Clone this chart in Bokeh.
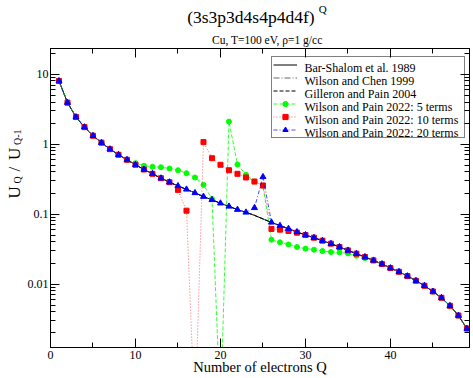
from math import pi
from bokeh.plotting import figure
from bokeh.layouts import column, row
from bokeh.models import (Range1d, FixedTicker, LogAxis, Label, Legend, LegendItem,
                          CustomJSTickFormatter, LinearAxis)
from bokeh.embed import file_html
from bokeh.resources import INLINE

# ---------------- data ----------------
Q = [1, 2, 3, 4, 5, 6, 7, 8, 9, 10, 11, 12, 13, 14, 15, 16, 17, 18, 19, 20,
     21, 22, 23, 24, 25, 26, 27, 28, 29, 30, 31, 32, 33, 34, 35, 36, 37, 38, 39, 40,
     41, 42, 43, 44, 45, 46, 47, 48, 49]

bar_shalom = [8.0, 3.92, 2.44, 1.75, 1.32, 1.05, 0.848, 0.705, 0.598, 0.507,
              0.434, 0.377, 0.326, 0.286, 0.253, 0.226, 0.201, 0.178, 0.160, 0.143,
              0.129, 0.116, 0.106, 0.0961, 0.0853, 0.0763, 0.0684, 0.0619, 0.0556, 0.0503,
              0.0460, 0.0417, 0.0378, 0.0339, 0.0303, 0.0272, 0.0244, 0.0218, 0.01935, 0.01694,
              0.0150, 0.0130, 0.01115, 0.00946, 0.00783, 0.00637, 0.00489, 0.00355, 0.00231]

wilson_chen = [8.0, 3.92, 2.44, 1.75, 1.32, 1.05, 0.848, 0.705, 0.598, 0.507,
               0.434, 0.377, 0.326, 0.286, 0.253, 0.226, 0.201, 0.178, 0.160, 0.143,
               0.129, 0.116, 0.106, 0.0961, 0.0853, 0.0763, 0.0684, 0.0619, 0.0556, 0.0503,
               0.0460, 0.0417, 0.0378, 0.0339, 0.0303, 0.0272, 0.0244, 0.0218, 0.01935, 0.01694,
               0.0150, 0.0130, 0.01115, 0.00946, 0.00783, 0.00637, 0.00489, 0.00355, 0.00231]

gilleron_pain = [8.0, 3.92, 2.44, 1.75, 1.32, 1.05, 0.848, 0.705, 0.598, 0.507,
                 0.434, 0.377, 0.326, 0.286, 0.253, 0.226, 0.201, 0.178, 0.160, 0.143,
                 0.129, 0.116, 0.106, 0.0961, 0.0853, 0.0763, 0.0684, 0.0619, 0.0556, 0.0503,
                 0.0460, 0.0417, 0.0378, 0.0339, 0.0303, 0.0272, 0.0244, 0.0218, 0.01935, 0.01694,
                 0.0150, 0.0130, 0.01115, 0.00946, 0.00783, 0.00637, 0.00489, 0.00355, 0.00231]

wp_5 = [8.0, 3.92, 2.44, 1.75, 1.32, 1.05, 0.848, 0.705, 0.598, 0.535,
        0.491, 0.475, 0.468, 0.449, 0.424, 0.385, 0.334, 0.262, 0.165, 0.00014,
        2.1, 0.512, 0.365, 0.292, 0.256, 0.0431, 0.0395, 0.0369, 0.0339, 0.0321,
        0.0310, 0.0297, 0.0287, 0.0284, 0.0274, 0.0254, 0.0235, 0.0218, 0.01935, 0.01694,
        0.0150, 0.0130, 0.01115, 0.00946, 0.00783, 0.00637, 0.00489, 0.00355, 0.00231]

wp_10 = [8.0, 3.92, 2.44, 1.75, 1.32, 1.05, 0.848, 0.705, 0.598, 0.507,
         0.434, 0.377, 0.326, 0.286, 0.222, 0.112, 0.00012, 1.07, 0.63, 0.507,
         0.424, 0.377, 0.334, 0.292, 0.256, 0.0614, 0.0600, 0.0574, 0.0543, 0.0503,
         0.0460, 0.0417, 0.0378, 0.0339, 0.0303, 0.0272, 0.0244, 0.0218, 0.01935, 0.01694,
         0.0150, 0.0130, 0.01115, 0.00946, 0.00783, 0.00637, 0.00489, 0.00355, 0.00231]

wp_20 = [8.0, 3.92, 2.44, 1.75, 1.32, 1.05, 0.848, 0.705, 0.598, 0.507,
         0.434, 0.377, 0.326, 0.286, 0.253, 0.226, 0.201, 0.178, 0.160, 0.143,
         0.129, 0.116, 0.106, 0.123, 0.341, 0.0763, 0.0684, 0.0619, 0.0556, 0.0503,
         0.0460, 0.0417, 0.0378, 0.0339, 0.0303, 0.0272, 0.0244, 0.0218, 0.01935, 0.01694,
         0.0150, 0.0130, 0.01115, 0.00946, 0.00783, 0.00637, 0.00489, 0.00355, 0.00231]

series_names = ["Bar-Shalom et al. 1989", "Wilson and Chen 1999", "Gilleron and Pain 2004",
                "Wilson and Pain 2022: 5 terms", "Wilson and Pain 2022: 10 terms",
                "Wilson and Pain 2022: 20 terms"]

x_major = [0, 10, 20, 30, 40]
x_minor = [5, 15, 25, 35, 45]
y_major = [0.01, 0.1, 1, 10]
y_minor = [0.002, 0.003, 0.004, 0.005, 0.006, 0.007, 0.008, 0.009,
           0.02, 0.03, 0.04, 0.05, 0.06, 0.07, 0.08, 0.09,
           0.2, 0.3, 0.4, 0.5, 0.6, 0.7, 0.8, 0.9,
           2, 3, 4, 5, 6, 7, 8, 9, 20]

FONT = "Liberation Serif"

TITLE_H = 47
YLAB_W = 24
TOTAL_W = 473
TOTAL_H = 378


def blank_fig(w, h):
    f = figure(width=w, height=h, x_range=Range1d(0, w), y_range=Range1d(0, h),
               output_backend="svg", toolbar_location=None, title=None,
               x_axis_location=None, y_axis_location=None,
               min_border=0, min_border_left=0, min_border_right=0,
               min_border_top=0, min_border_bottom=0)
    f.outline_line_color = None
    f.grid.visible = False
    f.background_fill_color = "white"
    f.border_fill_color = "white"
    return f


def lab(f, text, x, y, size, angle=0.0, align="left", level="annotation"):
    f.add_layout(Label(x=x, y=y, x_units="screen", y_units="screen", text=text,
                       text_font=FONT, text_font_size=size, angle=angle, level=level,
                       text_align=align, text_baseline="alphabetic", text_color="black"))


# ---------------- title strip ----------------
tf = blank_fig(TOTAL_W, TITLE_H)
lab(tf, "(3s3p3d4s4p4d4f)", 186.7, 30.3, "17.5px")
lab(tf, "Q", 318.3, 38.7, "11px")
lab(tf, "Cu, T=100 eV, \u03c1=1 g/cc", 266.7, 7.7, "11.5px", align="center")

# ---------------- y-label strip ----------------
yf = blank_fig(YLAB_W, TOTAL_H - TITLE_H)
lab(yf, "U", 14, 149, "17px", angle=pi / 2)
lab(yf, "Q", 16.6, 164, "10px", angle=pi / 2)
lab(yf, "/", 14, 176, "17px", angle=pi / 2)
lab(yf, "U", 14, 187.5, "17px", angle=pi / 2)
lab(yf, "Q-1", 16.6, 202.5, "10px", angle=pi / 2)

# ---------------- main plot ----------------
p = figure(width=TOTAL_W - YLAB_W, height=TOTAL_H - TITLE_H,
           x_range=Range1d(0, 49.3), y_range=Range1d(0.00124, 23.3),
           y_axis_type="log", output_backend="svg", toolbar_location=None, title=None,
           min_border_left=47 - YLAB_W, min_border_right=4, min_border_top=1,
           min_border_bottom=31)
p.xgrid.grid_line_color = None
p.ygrid.grid_line_color = None
p.outline_line_color = "black"
p.background_fill_color = "white"
p.border_fill_color = "white"

bottom = p.below[0]
left = p.left[0]

xt = FixedTicker(ticks=x_major, minor_ticks=x_minor)
yt = FixedTicker(ticks=y_major, minor_ticks=y_minor)

bottom.ticker = xt
left.ticker = yt
left.formatter = CustomJSTickFormatter(code="return tick.toString();")

top = LinearAxis(ticker=xt, formatter=CustomJSTickFormatter(code="return '';"))
right = LogAxis(ticker=yt, formatter=CustomJSTickFormatter(code="return '';"))
p.add_layout(top, "above")
p.add_layout(right, "right")

for ax in [bottom, left, top, right]:
    ax.axis_line_color = "black"
    ax.major_tick_line_color = "black"
    ax.minor_tick_line_color = "black"
    ax.major_tick_in = 9
    ax.major_tick_out = 0
    ax.minor_tick_in = 5
    ax.minor_tick_out = 0
    ax.major_label_text_font = FONT
    ax.major_label_text_font_size = "12px"
    ax.major_label_text_color = "black"
for ax in [top, right]:
    ax.major_label_standoff = 0
    ax.major_label_text_font_size = "0px"
bottom.major_label_standoff = 3
left.major_label_standoff = 2

bottom.axis_label = "Number of electrons Q"
bottom.axis_label_text_font = FONT
bottom.axis_label_text_font_size = "14.5px"
bottom.axis_label_text_font_style = "normal"
bottom.axis_label_text_color = "black"
bottom.axis_label_standoff = -3

# ---------------- curves ----------------
r_bs = p.line(Q, bar_shalom, line_color="black", line_width=1)
r_wc = p.line(Q, wilson_chen, line_color="#666666", line_width=1, line_dash="6 2 1 2")
r_gp = p.line(Q, gilleron_pain, line_color="black", line_width=1, line_dash="4 2")

l5 = p.line(Q, wp_5, line_color="#00ff00", line_width=1, line_dash="4 2", line_alpha=0.8)
m5 = p.scatter(Q, wp_5, marker="circle", size=5, fill_color="#00ff00", line_color="#00ff00")
l10 = p.line(Q, wp_10, line_color="#ff0000", line_width=1, line_dash="1 2", line_alpha=0.6)
m10 = p.scatter(Q, wp_10, marker="square", size=5, fill_color="#ff0000", line_color="#ff0000")
l20 = p.line(Q, wp_20, line_color="#0000ff", line_width=1, line_dash="4 2 1 2", line_alpha=0.7)
m20 = p.scatter(Q, wp_20, marker="triangle", size=6, fill_color="#0000ff", line_color="#0000ff")

# legend box with glyph samples; its texts are drawn as labels inside the frame
ITEM_H = 13
legend = Legend(items=[
    LegendItem(label=" ", renderers=[r_bs]),
    LegendItem(label=" ", renderers=[r_wc]),
    LegendItem(label=" ", renderers=[r_gp]),
    LegendItem(label=" ", renderers=[l5, m5]),
    LegendItem(label=" ", renderers=[l10, m10]),
    LegendItem(label=" ", renderers=[l20, m20]),
], location=(221, 209), padding=1, spacing=0,
   label_text_font=FONT, label_text_font_size="1px",
   label_height=ITEM_H, glyph_height=ITEM_H, glyph_width=24, label_standoff=8,
   label_width=158,
   border_line_color="black", border_line_width=1,
   background_fill_color="white", background_fill_alpha=0.0)
p.add_layout(legend)

# legend texts: frame-relative screen coordinates (frame bottom is at y=0)
leg_top = 209 + 2 * 1 + 6 * ITEM_H - 1   # top of the legend's inner area
for i, name in enumerate(series_names):
    lab(p, name, 221 + 1 + 24 + 8, leg_top - (i + 0.5) * ITEM_H - 1.7, "12px",
        level="overlay")

layout = column(tf, row(yf, p))
open("out.html", "w").write(file_html(layout, INLINE))
